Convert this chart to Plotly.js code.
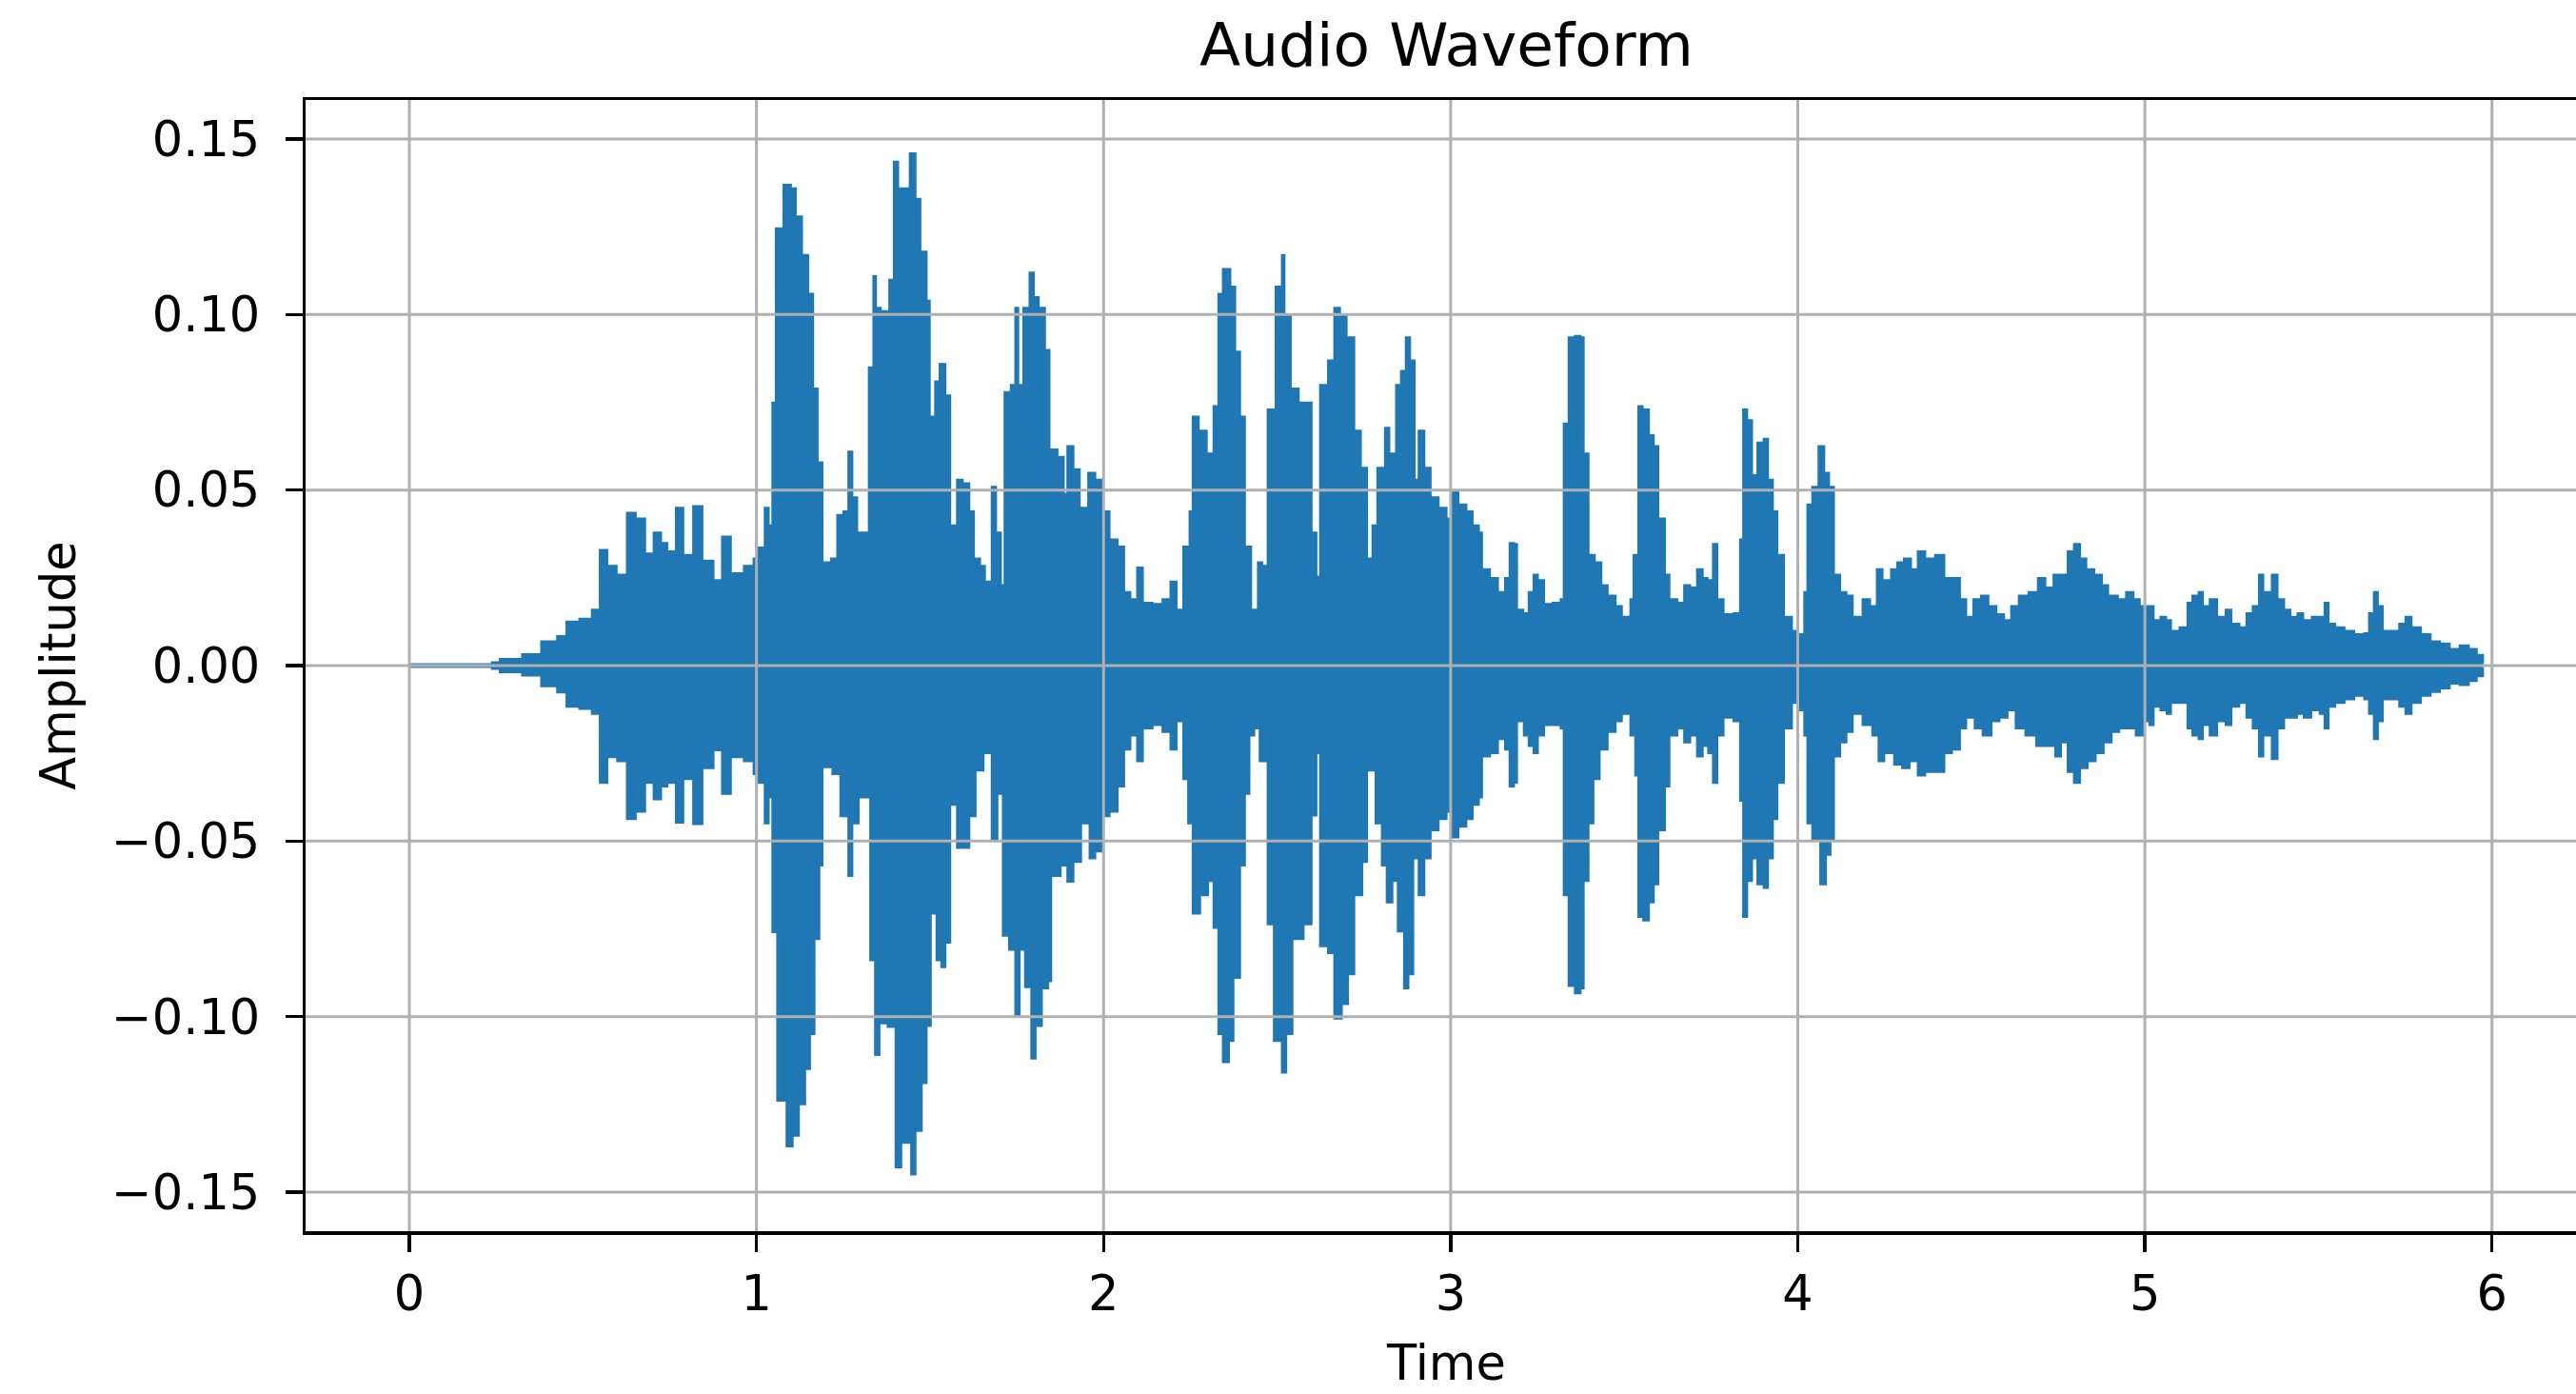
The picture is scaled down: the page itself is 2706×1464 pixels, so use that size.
<!DOCTYPE html>
<html>
<head>
<meta charset="utf-8">
<script src="https://cdn.plot.ly/plotly-3.0.1.min.js"></script>
<style>
  html, body { margin: 0; padding: 0; background: #ffffff; overflow: hidden; }
  #chart { width: 2730px; height: 1464px; }
</style>
</head>
<body>
<div id="chart"></div>
<script>
// ---- Data (time in s, amplitude envelope) ----
const tUpper = [
  0, 0.237, 0.26, 0.324, 0.379, 0.425, 0.452, 0.489, 0.525, 0.548, 0.571, 0.598, 0.626, 0.653, 0.680, 0.703, 0.726, 0.744, 0.767, 0.790, 0.817, 0.845, 0.877, 0.900, 0.927, 0.963, 0.991,
  1.005, 1.023, 1.036, 1.045, 1.055, 1.077, 1.100, 1.114, 1.132, 1.150, 1.164, 1.177, 1.191, 1.214, 1.232, 1.250, 1.264, 1.277, 1.291, 1.314, 1.323, 1.336, 1.345, 1.359, 1.382, 1.395, 1.409, 1.423, 1.441, 1.459, 1.473, 1.491, 1.500, 1.514, 1.527, 1.545, 1.559, 1.577, 1.595, 1.614, 1.627, 1.645, 1.659, 1.677, 1.691, 1.705, 1.714, 1.732, 1.745, 1.755, 1.768, 1.786, 1.800, 1.814, 1.832, 1.845, 1.868, 1.886, 1.895, 1.914, 1.932, 1.955, 1.977, 1.995,
  2.018, 2.041, 2.060, 2.078, 2.096, 2.114, 2.142, 2.169, 2.192, 2.211, 2.229, 2.247, 2.256, 2.275, 2.298, 2.316, 2.330, 2.343, 2.366, 2.380, 2.394, 2.408, 2.426, 2.444, 2.458, 2.472, 2.495, 2.513, 2.522, 2.540, 2.563, 2.582, 2.600, 2.614, 2.623, 2.646, 2.664, 2.682, 2.701, 2.723, 2.742, 2.760, 2.774, 2.788, 2.810, 2.824, 2.842, 2.856, 2.870, 2.884, 2.897, 2.907, 2.925, 2.943, 2.966, 2.989,
  3.005, 3.023, 3.046, 3.064, 3.082, 3.091, 3.114, 3.137, 3.156, 3.169, 3.183, 3.192, 3.210, 3.224, 3.238, 3.252, 3.270, 3.293, 3.316, 3.325, 3.339, 3.357, 3.375, 3.384, 3.398, 3.416, 3.435, 3.453, 3.476, 3.494, 3.517, 3.526, 3.540, 3.554, 3.572, 3.586, 3.599, 3.618, 3.631, 3.654, 3.672, 3.691, 3.709, 3.727, 3.741, 3.755, 3.769, 3.787, 3.814, 3.833, 3.842, 3.855, 3.869, 3.883, 3.901, 3.915, 3.929, 3.942, 3.961, 3.984, 3.997,
  4.005, 4.018, 4.027, 4.041, 4.059, 4.077, 4.091, 4.105, 4.123, 4.141, 4.159, 4.186, 4.209, 4.227, 4.245, 4.268, 4.286, 4.305, 4.327, 4.345, 4.368, 4.395, 4.423, 4.445, 4.468, 4.486, 4.505, 4.527, 4.550, 4.573, 4.595, 4.614, 4.636, 4.664, 4.691, 4.714, 4.736, 4.759, 4.777, 4.795, 4.814, 4.832, 4.855, 4.877, 4.895, 4.923, 4.945, 4.968, 4.986,
  5.012, 5.026, 5.044, 5.062, 5.076, 5.099, 5.122, 5.136, 5.154, 5.168, 5.186, 5.209, 5.232, 5.250, 5.273, 5.292, 5.310, 5.328, 5.342, 5.365, 5.383, 5.402, 5.420, 5.439, 5.457, 5.480, 5.503, 5.517, 5.530, 5.549, 5.576, 5.604, 5.631, 5.645, 5.659, 5.672, 5.686, 5.714, 5.732, 5.750, 5.769, 5.796, 5.824, 5.851, 5.879, 5.906, 5.934, 5.957, 5.975
];
const ampUpper = [
  0.0005, 0.001, 0.002, 0.0033, 0.007, 0.0085, 0.0126, 0.0134, 0.016, 0.033, 0.0285, 0.026, 0.0436, 0.042, 0.032, 0.038, 0.035, 0.0326, 0.045, 0.0316, 0.0455, 0.030, 0.0244, 0.0368, 0.0264, 0.0285, 0.0306,
  0.0337, 0.045, 0.040, 0.075, 0.1246, 0.137, 0.136, 0.128, 0.117, 0.106, 0.079, 0.058, 0.0295, 0.0306, 0.043, 0.044, 0.061, 0.048, 0.038, 0.038, 0.085, 0.111, 0.102, 0.101, 0.110, 0.1436, 0.136, 0.136, 0.146, 0.133, 0.118, 0.104, 0.071, 0.081, 0.086, 0.077, 0.040, 0.053, 0.052, 0.044, 0.0306, 0.0285, 0.024, 0.051, 0.038, 0.023, 0.078, 0.080, 0.102, 0.080, 0.102, 0.112, 0.105, 0.102, 0.090, 0.0616, 0.0595, 0.049, 0.0626, 0.056, 0.045, 0.055, 0.053, 0.044,
  0.036, 0.034, 0.021, 0.019, 0.028, 0.018, 0.0176, 0.019, 0.024, 0.016, 0.034, 0.044, 0.071, 0.067, 0.0605, 0.074, 0.106, 0.113, 0.108, 0.0895, 0.071, 0.034, 0.016, 0.0295, 0.0285, 0.073, 0.108, 0.117, 0.100, 0.079, 0.075, 0.075, 0.038, 0.0254, 0.080, 0.087, 0.102, 0.100, 0.0936, 0.067, 0.0564, 0.0306, 0.040, 0.0564, 0.0678, 0.0605, 0.080, 0.084, 0.0936, 0.087, 0.053, 0.067, 0.0564, 0.048, 0.045, 0.042,
  0.050, 0.046, 0.044, 0.040, 0.038, 0.0275, 0.025, 0.021, 0.025, 0.035, 0.0347, 0.016, 0.015, 0.021, 0.026, 0.0244, 0.0176, 0.018, 0.019, 0.069, 0.0936, 0.094, 0.0936, 0.0605, 0.0316, 0.0295, 0.023, 0.020, 0.017, 0.014, 0.019, 0.0316, 0.074, 0.073, 0.0657, 0.0626, 0.042, 0.026, 0.019, 0.018, 0.023, 0.0223, 0.0275, 0.025, 0.0244, 0.0347, 0.019, 0.0147, 0.015, 0.036, 0.073, 0.070, 0.0543, 0.0636, 0.0647, 0.053, 0.044, 0.0316, 0.014, 0.010, 0.008,
  0.009, 0.021, 0.046, 0.051, 0.0626, 0.055, 0.051, 0.026, 0.021, 0.020, 0.014, 0.019, 0.017, 0.0275, 0.0244, 0.0275, 0.0295, 0.0306, 0.0275, 0.0326, 0.0306, 0.0316, 0.025, 0.025, 0.019, 0.014, 0.019, 0.020, 0.017, 0.0147, 0.013, 0.017, 0.020, 0.021, 0.025, 0.0223, 0.026, 0.026, 0.0326, 0.0347, 0.0306, 0.0275, 0.026, 0.023, 0.020, 0.019, 0.021, 0.019, 0.017,
  0.017, 0.013, 0.014, 0.013, 0.010, 0.011, 0.018, 0.020, 0.021, 0.017, 0.019, 0.014, 0.016, 0.012, 0.011, 0.015, 0.017, 0.026, 0.021, 0.026, 0.019, 0.016, 0.014, 0.015, 0.013, 0.014, 0.014, 0.018, 0.012, 0.011, 0.010, 0.009, 0.0093, 0.015, 0.021, 0.017, 0.010, 0.010, 0.012, 0.014, 0.011, 0.009, 0.007, 0.0064, 0.0048, 0.0058, 0.0048, 0.0031, 0.0006
];
const tLower = [
  0, 0.237, 0.26, 0.324, 0.379, 0.425, 0.452, 0.489, 0.525, 0.548, 0.571, 0.598, 0.626, 0.653, 0.680, 0.703, 0.726, 0.744, 0.767, 0.790, 0.817, 0.845, 0.877, 0.900, 0.927, 0.963, 0.991,
  1.005, 1.023, 1.036, 1.045, 1.059, 1.086, 1.105, 1.123, 1.141, 1.155, 1.168, 1.182, 1.191, 1.218, 1.241, 1.264, 1.277, 1.295, 1.318, 1.327, 1.341, 1.355, 1.377, 1.400, 1.418, 1.432, 1.445, 1.459, 1.477, 1.491, 1.503, 1.518, 1.532, 1.545, 1.559, 1.577, 1.595, 1.614, 1.632, 1.655, 1.677, 1.695, 1.709, 1.727, 1.745, 1.759, 1.773, 1.791, 1.805, 1.823, 1.841, 1.850, 1.877, 1.895, 1.914, 1.936, 1.959, 1.977, 1.995,
  2.018, 2.041, 2.060, 2.078, 2.096, 2.114, 2.142, 2.169, 2.192, 2.211, 2.229, 2.243, 2.256, 2.279, 2.302, 2.316, 2.330, 2.343, 2.362, 2.375, 2.394, 2.408, 2.421, 2.435, 2.449, 2.472, 2.490, 2.513, 2.527, 2.545, 2.577, 2.600, 2.614, 2.623, 2.646, 2.664, 2.687, 2.705, 2.723, 2.746, 2.760, 2.783, 2.801, 2.815, 2.833, 2.847, 2.865, 2.879, 2.893, 2.907, 2.925, 2.943, 2.966, 2.989,
  3.005, 3.023, 3.046, 3.064, 3.082, 3.091, 3.114, 3.137, 3.156, 3.169, 3.183, 3.192, 3.210, 3.224, 3.238, 3.252, 3.270, 3.293, 3.316, 3.325, 3.339, 3.357, 3.375, 3.384, 3.398, 3.412, 3.430, 3.453, 3.476, 3.494, 3.517, 3.531, 3.540, 3.554, 3.572, 3.586, 3.599, 3.618, 3.631, 3.654, 3.672, 3.691, 3.709, 3.727, 3.741, 3.755, 3.769, 3.787, 3.814, 3.833, 3.842, 3.855, 3.869, 3.883, 3.901, 3.915, 3.929, 3.942, 3.961, 3.984, 3.997,
  4.005, 4.018, 4.027, 4.041, 4.064, 4.082, 4.095, 4.105, 4.123, 4.141, 4.159, 4.186, 4.214, 4.232, 4.250, 4.277, 4.300, 4.323, 4.345, 4.368, 4.395, 4.423, 4.445, 4.468, 4.486, 4.509, 4.532, 4.559, 4.582, 4.605, 4.627, 4.655, 4.686, 4.709, 4.741, 4.759, 4.777, 4.795, 4.814, 4.836, 4.859, 4.882, 4.905, 4.927, 4.950, 4.973, 4.995,
  5.012, 5.026, 5.044, 5.062, 5.076, 5.099, 5.122, 5.136, 5.154, 5.168, 5.186, 5.209, 5.232, 5.250, 5.273, 5.292, 5.310, 5.328, 5.342, 5.365, 5.383, 5.402, 5.420, 5.439, 5.457, 5.480, 5.503, 5.517, 5.530, 5.549, 5.576, 5.604, 5.631, 5.645, 5.659, 5.672, 5.686, 5.714, 5.732, 5.750, 5.769, 5.796, 5.824, 5.851, 5.879, 5.906, 5.934, 5.957, 5.975
];
const ampLower = [
  -0.0005, -0.001, -0.002, -0.0029, -0.006, -0.0077, -0.0118, -0.0124, -0.0138, -0.0335, -0.0262, -0.0273, -0.0438, -0.0417, -0.0335, -0.0382, -0.0345, -0.0335, -0.0448, -0.0324, -0.0452, -0.0293, -0.0242, -0.0366, -0.0262, -0.0273, -0.031,
  -0.0335, -0.045, -0.0376, -0.076, -0.124, -0.137, -0.134, -0.125, -0.115, -0.105, -0.078, -0.057, -0.029, -0.031, -0.043, -0.060, -0.045, -0.0376, -0.0376, -0.084, -0.111, -0.102, -0.103, -0.143, -0.136, -0.136, -0.145, -0.1326, -0.119, -0.1027, -0.0707, -0.084, -0.086, -0.079, -0.0397, -0.052, -0.052, -0.043, -0.030, -0.025, -0.050, -0.0366, -0.077, -0.081, -0.0996, -0.081, -0.0917, -0.112, -0.1027, -0.092, -0.090, -0.060, -0.057, -0.0616, -0.056, -0.045, -0.055, -0.053, -0.043,
  -0.0417, -0.0345, -0.024, -0.020, -0.0273, -0.018, -0.017, -0.019, -0.024, -0.0159, -0.0324, -0.045, -0.0707, -0.0655, -0.0614, -0.0748, -0.105, -0.113, -0.107, -0.089, -0.057, -0.0366, -0.020, -0.018, -0.0273, -0.0738, -0.107, -0.116, -0.105, -0.078, -0.0738, -0.0428, -0.025, -0.080, -0.082, -0.1006, -0.0965, -0.088, -0.0655, -0.056, -0.030, -0.045, -0.057, -0.0675, -0.0614, -0.0758, -0.092, -0.088, -0.055, -0.0655, -0.055, -0.047, -0.0438, -0.0417,
  -0.049, -0.046, -0.0438, -0.0397, -0.0376, -0.026, -0.025, -0.021, -0.024, -0.0345, -0.0335, -0.0159, -0.020, -0.023, -0.025, -0.020, -0.017, -0.017, -0.018, -0.0655, -0.0913, -0.0934, -0.092, -0.0614, -0.045, -0.0324, -0.024, -0.019, -0.0159, -0.0138, -0.020, -0.0314, -0.0717, -0.0727, -0.0675, -0.0624, -0.047, -0.0345, -0.020, -0.018, -0.022, -0.020, -0.026, -0.023, -0.025, -0.0335, -0.020, -0.0149, -0.0159, -0.0386, -0.0717, -0.0614, -0.055, -0.0624, -0.0634, -0.055, -0.0438, -0.0335, -0.018, -0.0107, -0.0087,
  -0.0128, -0.020, -0.045, -0.050, -0.0624, -0.054, -0.050, -0.026, -0.022, -0.019, -0.0138, -0.017, -0.020, -0.0273, -0.025, -0.0283, -0.0293, -0.0273, -0.0314, -0.0304, -0.0304, -0.025, -0.024, -0.018, -0.0149, -0.018, -0.020, -0.0159, -0.0149, -0.0128, -0.018, -0.020, -0.023, -0.023, -0.026, -0.022, -0.0304, -0.0335, -0.0293, -0.0273, -0.025, -0.022, -0.019, -0.018, -0.018, -0.020, -0.0159,
  -0.017, -0.0118, -0.0128, -0.0138, -0.0107, -0.0107, -0.018, -0.020, -0.021, -0.017, -0.020, -0.0159, -0.017, -0.0118, -0.0107, -0.0149, -0.018, -0.026, -0.020, -0.0267, -0.018, -0.0149, -0.0149, -0.0138, -0.0149, -0.0128, -0.0138, -0.018, -0.0118, -0.0107, -0.0097, -0.0087, -0.0097, -0.0138, -0.021, -0.0159, -0.0097, -0.0097, -0.0118, -0.0138, -0.0107, -0.0087, -0.0076, -0.0066, -0.0052, -0.0056, -0.0045, -0.0031, -0.0006
];
const xTicks = [0, 1, 2, 3, 4, 5, 6];
const yTicks = [-0.15, -0.10, -0.05, 0.00, 0.05, 0.10, 0.15];

// ---- Styling ----
const BLUE = '#1f77b4';
const GRID = '#b0b0b0';
const FONT = 'DejaVu Sans, Verdana, sans-serif';

const traces = [
  {
    x: tLower, y: ampLower, type: 'scatter', mode: 'lines',
    line: { color: BLUE, width: 1.5, shape: 'hv' },
    hoverinfo: 'skip', showlegend: false
  },
  {
    x: tUpper, y: ampUpper, type: 'scatter', mode: 'lines',
    line: { color: BLUE, width: 1.5, shape: 'hv' },
    fill: 'tonexty', fillcolor: BLUE,
    hoverinfo: 'skip', showlegend: false
  }
];

// gridlines drawn above the waveform (as in the reference)
const shapes = [];
xTicks.forEach(v => shapes.push({
  type: 'line', xref: 'x', yref: 'paper', x0: v, x1: v, y0: 0, y1: 1,
  line: { color: GRID, width: 3 }, layer: 'above'
}));
yTicks.forEach(v => shapes.push({
  type: 'line', xref: 'paper', yref: 'y', x0: 0, x1: 1, y0: v, y1: v,
  line: { color: GRID, width: 3 }, layer: 'above'
}));

const axisCommon = {
  showgrid: false, zeroline: false,
  showline: true, linecolor: '#000000', linewidth: 3.5, mirror: true,
  ticks: 'outside', ticklen: 18, tickwidth: 3.5, tickcolor: '#000000',
  tickfont: { family: FONT, size: 51, color: '#000000' },
  layer: 'above traces', automargin: false
};

const layout = {
  width: 2730, height: 1464,
  margin: { l: 321, r: 12, t: 105, b: 171, pad: 0 },
  paper_bgcolor: '#ffffff', plot_bgcolor: '#ffffff',
  font: { family: FONT, color: '#000000' },
  title: {
    text: 'Audio Waveform',
    font: { family: FONT, size: 63, color: '#000000' },
    x: 0.5, xref: 'paper', xanchor: 'center',
    y: 0.968, yref: 'container', yanchor: 'middle'
  },
  xaxis: Object.assign({}, axisCommon, {
    range: [-0.299, 6.275],
    tickmode: 'array', tickvals: xTicks, ticktext: xTicks.map(String),
    title: { text: 'Time', font: { family: FONT, size: 51, color: '#000000' }, standoff: 27 }
  }),
  yaxis: Object.assign({}, axisCommon, {
    range: [-0.1611, 0.1611],
    tickmode: 'array', tickvals: yTicks, tickformat: '.2f',
    ticklabelstandoff: 16,
    title: { text: 'Amplitude', font: { family: FONT, size: 51, color: '#000000' }, standoff: 22 }
  }),
  shapes: shapes
};

Plotly.newPlot('chart', traces, layout, { staticPlot: true, displayModeBar: false });
</script>
</body>
</html>
